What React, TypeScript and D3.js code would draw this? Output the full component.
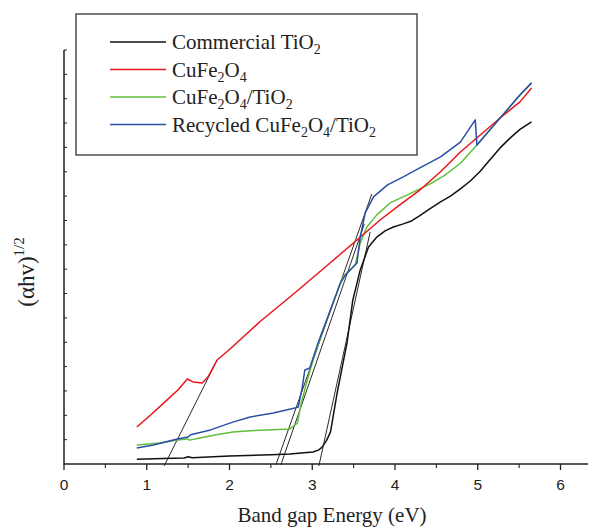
import React from "react";
import * as d3 from "d3";

// ---- Data (E in eV, value in (αhv)^1/2 arbitrary units) ----
const blackE = [0.88, 1.2, 1.45, 1.5, 1.55, 2.0, 2.5, 2.73, 3.01, 3.08, 3.12, 3.17, 3.22, 3.3, 3.42, 3.49, 3.58, 3.68, 3.78, 3.88, 3.98, 4.1, 4.2, 4.3, 4.42, 4.55, 4.67, 4.79, 4.91, 5.03, 5.15, 5.27, 5.39, 5.51, 5.65];
const blackV = [0.2, 0.23, 0.25, 0.3, 0.26, 0.33, 0.38, 0.41, 0.49, 0.58, 0.7, 0.95, 1.31, 2.9, 4.97, 6.73, 7.97, 8.91, 9.32, 9.57, 9.73, 9.86, 9.98, 10.2, 10.48, 10.76, 11.0, 11.3, 11.62, 12.02, 12.5, 12.98, 13.38, 13.74, 14.05];

const redE = [0.88, 1.05, 1.22, 1.38, 1.49, 1.56, 1.67, 1.74, 1.85, 2.0, 2.37, 2.77, 3.18, 3.54, 3.82, 4.05, 4.3, 4.55, 4.79, 5.03, 5.27, 5.51, 5.65];
const redV = [1.52, 2.02, 2.55, 3.05, 3.49, 3.37, 3.33, 3.57, 4.27, 4.7, 5.85, 6.97, 8.15, 9.2, 10.02, 10.62, 11.25, 12.0, 12.81, 13.51, 14.21, 14.87, 15.44];

const greenE = [0.88, 1.16, 1.37, 1.49, 1.52, 1.64, 1.84, 2.04, 2.25, 2.45, 2.73, 2.82, 2.86, 2.92, 3.01, 3.13, 3.25, 3.37, 3.52, 3.58, 3.66, 3.78, 3.94, 4.15, 4.3, 4.45, 4.6, 4.79, 4.99, 5.27, 5.51, 5.65];
const greenV = [0.78, 0.86, 0.99, 1.03, 0.98, 1.07, 1.2, 1.31, 1.37, 1.4, 1.44, 1.68, 2.4, 3.2, 4.27, 5.5, 6.61, 7.68, 8.17, 9.08, 9.73, 10.23, 10.72, 11.05, 11.3, 11.55, 11.85, 12.35, 13.1, 14.21, 15.15, 15.65];

const blueE = [0.88, 1.08, 1.37, 1.5, 1.53, 1.77, 2.04, 2.25, 2.53, 2.79, 2.83, 2.88, 2.91, 2.97, 3.07, 3.22, 3.34, 3.4, 3.54, 3.58, 3.64, 3.74, 3.91, 4.1, 4.3, 4.55, 4.79, 4.97, 4.99, 5.27, 5.51, 5.65];
const blueV = [0.66, 0.78, 1.03, 1.11, 1.2, 1.4, 1.72, 1.93, 2.09, 2.3, 2.34, 3.16, 3.86, 3.94, 4.97, 6.32, 7.43, 7.76, 8.25, 9.32, 10.31, 10.97, 11.46, 11.79, 12.16, 12.61, 13.22, 14.13, 13.1, 14.21, 15.15, 15.65];

// tangent (extrapolation) lines: [E1, v1, E2, v2]
const tangentRed = [1.21, -0.08, 1.85, 4.27];
const tangentBlue = [2.56, -0.04, 3.72, 11.09];
const tangentGreen = [2.62, -0.04, 3.63, 9.86];
const tangentBlack = [3.08, -0.08, 3.7, 9.53];

const xTicks = [0, 1, 2, 3, 4, 5, 6];
const xMinorTicks = [0.5, 1.5, 2.5, 3.5, 4.5, 5.5];
const yTicks = [1, 2, 3, 4, 5, 6, 7, 8, 9, 10, 11, 12, 13, 14, 15, 16, 17];

const seriesNames = ["Commercial TiO2", "CuFe2O4", "CuFe2O4/TiO2", "Recycled CuFe2O4/TiO2"];
const seriesColors = ["#111111", "#e8161b", "#62bf3a", "#2c4ea6"];

export default function App() {
  const x = d3.scaleLinear().domain([0, 6]).range([64, 560.5]);
  const y = d3.scaleLinear().domain([0, 17]).range([464, 50]);
  const line = d3
    .line<[number, number]>()
    .x((d) => x(d[0]))
    .y((d) => y(d[1]));

  const zip = (a: number[], b: number[]) => a.map((e, i) => [e, b[i]] as [number, number]);
  const series = [
    zip(blackE, blackV),
    zip(redE, redV),
    zip(greenE, greenV),
    zip(blueE, blueV),
  ];
  const tangents = [tangentRed, tangentBlue, tangentGreen, tangentBlack];

  const serif = "'Liberation Serif', 'Times New Roman', serif";
  const sans = "'Liberation Sans', Arial, sans-serif";
  const fs = 21;

  // subscript then return to baseline
  const sub = (t: string, last = false) => (
    <>
      <tspan dy={5} fontSize={14}>
        {t}
      </tspan>
      {!last && <tspan dy={-5}>{""}</tspan>}
    </>
  );
  const legendLabels = [
    <>Commercial TiO<tspan dy={5} fontSize={14}>2</tspan></>,
    <>CuFe<tspan dy={5} fontSize={14}>2</tspan><tspan dy={-5}>O</tspan><tspan dy={5} fontSize={14}>4</tspan></>,
    <>CuFe<tspan dy={5} fontSize={14}>2</tspan><tspan dy={-5}>O</tspan><tspan dy={5} fontSize={14}>4</tspan><tspan dy={-5}>/TiO</tspan><tspan dy={5} fontSize={14}>2</tspan></>,
    <>Recycled CuFe<tspan dy={5} fontSize={14}>2</tspan><tspan dy={-5}>O</tspan><tspan dy={5} fontSize={14}>4</tspan><tspan dy={-5}>/TiO</tspan><tspan dy={5} fontSize={14}>2</tspan></>,
  ];
  void sub;
  const legendY = [42, 69.5, 97, 124.5];

  const xEnd = 588;

  return (
    <svg
      width={590}
      height={528}
      style={{ position: "absolute", left: 0, top: 0, background: "#fff" }}
    >
      <rect width={590} height={528} fill="#fff" />
      {/* tangent lines */}
      {tangents.map((t, i) => (
        <line
          key={"t" + i}
          x1={x(t[0])}
          y1={y(t[1])}
          x2={x(t[2])}
          y2={y(t[3])}
          stroke="#111"
          strokeWidth={0.9}
        />
      ))}
      {/* curves */}
      {[2, 1, 0, 3].map((i) => (
        <path
          key={"s" + i}
          d={line(series[i]) || ""}
          fill="none"
          stroke={seriesColors[i]}
          strokeWidth={1.5}
          strokeLinejoin="round"
        />
      ))}
      {/* axes */}
      <line x1={64} y1={y(0)} x2={xEnd} y2={y(0)} stroke="#222" strokeWidth={1.5} />
      <line x1={64} y1={y(0) + 0.75} x2={64} y2={y(17)} stroke="#222" strokeWidth={1.5} />
      {xTicks.map((t) => (
        <g key={"xt" + t}>
          <line x1={x(t)} x2={x(t)} y1={y(0)} y2={y(0) + 6} stroke="#222" strokeWidth={1.3} />
          <text x={x(t)} y={490} textAnchor="middle" fontFamily={sans} fontSize={15.5} fill="#222">
            {t}
          </text>
        </g>
      ))}
      {xMinorTicks.map((t) => (
        <line key={"xm" + t} x1={x(t)} x2={x(t)} y1={y(0)} y2={y(0) + 4} stroke="#222" strokeWidth={1.1} />
      ))}
      {yTicks.map((t) => (
        <line key={"yt" + t} x1={64} x2={67} y1={y(t)} y2={y(t)} stroke="#222" strokeWidth={1} />
      ))}
      {/* axis titles */}
      <text x={332} y={522} textAnchor="middle" fontFamily={serif} fontSize={21} fill="#222">
        Band gap Energy (eV)
      </text>
      <text
        transform="translate(34,272) rotate(-90)"
        textAnchor="middle"
        fontFamily={serif}
        fontSize={23}
        fill="#222"
      >
        (αhv)
        <tspan dy={-10} fontSize={15}>
          1/2
        </tspan>
      </text>
      {/* legend */}
      <rect x={76} y={14} width={341} height={141} fill="#fff" stroke="#333" strokeWidth={1.3} />
      {seriesNames.map((n, i) => (
        <g key={"lg" + i}>
          <line x1={110} x2={166} y1={legendY[i]} y2={legendY[i]} stroke={seriesColors[i]} strokeWidth={1.6} />
          <text x={172} y={legendY[i] + 7} fontFamily={serif} fontSize={fs} fill="#222">
            {legendLabels[i]}
          </text>
        </g>
      ))}
    </svg>
  );
}
